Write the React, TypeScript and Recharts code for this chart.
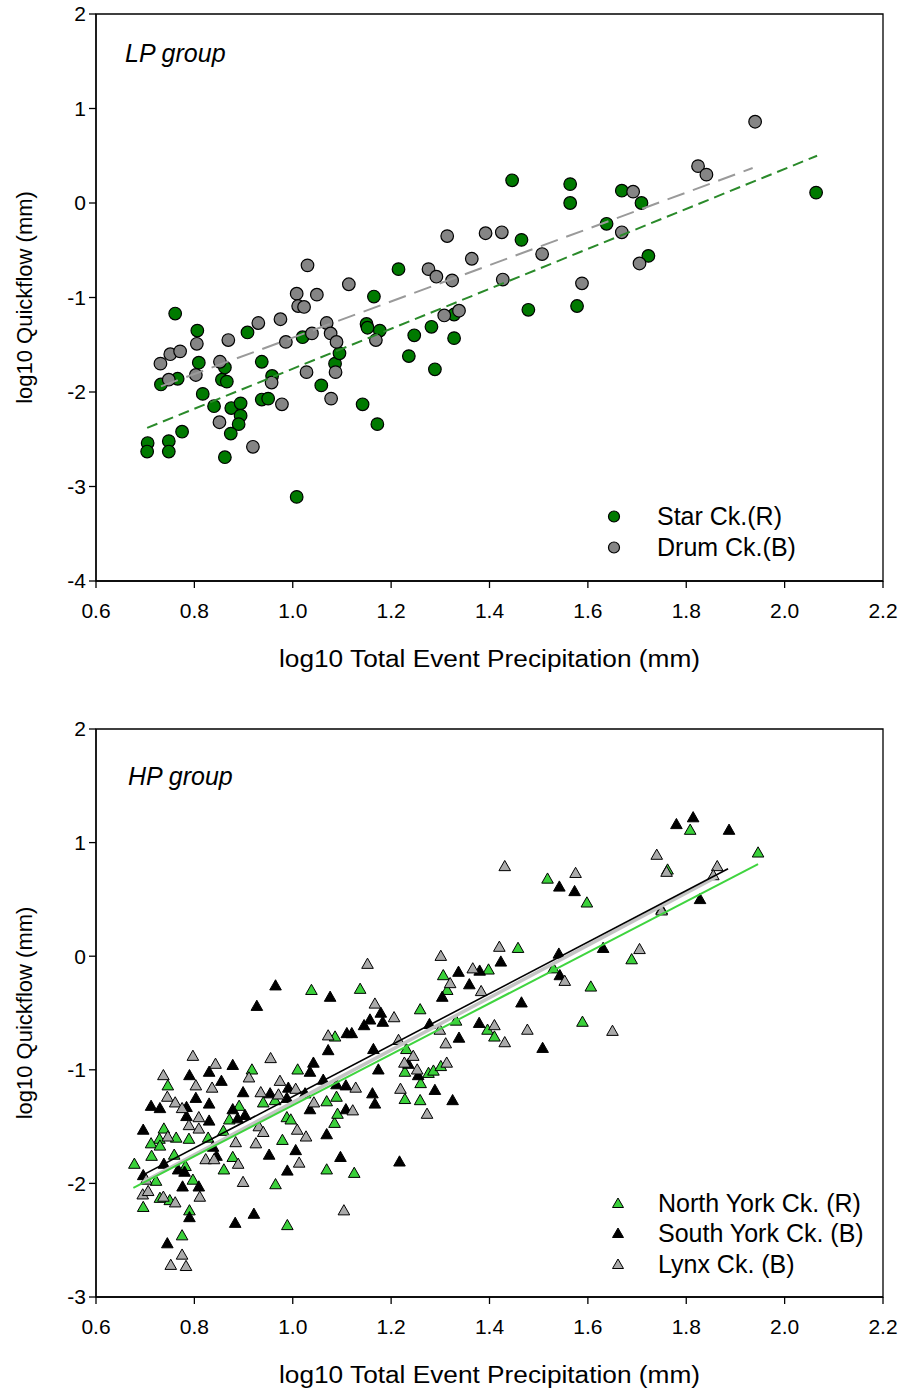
import { ScatterChart, Scatter, XAxis, YAxis, ReferenceArea, Legend } from 'recharts'

type Pt = [number, number]

// ---- LP group (top panel) ----
const starCk: Pt[] = [
  [0.761, -1.17], [0.806, -1.35], [0.809, -1.69], [0.817, -2.02], [0.84, -2.15], [0.856, -1.87],
  [0.866, -1.89], [0.862, -1.74], [0.875, -2.17], [0.894, -2.12], [0.894, -2.25], [0.89, -2.34],
  [0.874, -2.44], [0.862, -2.69], [0.775, -2.42], [0.748, -2.52], [0.748, -2.63], [0.705, -2.54],
  [0.704, -2.63], [0.732, -1.92], [0.766, -1.86], [0.908, -1.37], [0.937, -1.68], [0.958, -1.83],
  [0.937, -2.08], [0.95, -2.07], [1.008, -3.11], [1.02, -1.42], [1.058, -1.93], [1.086, -1.7],
  [1.095, -1.59], [1.142, -2.13], [1.15, -1.28], [1.152, -1.32], [1.165, -0.99], [1.172, -2.34],
  [1.177, -1.35], [1.236, -1.62], [1.247, -1.4], [1.282, -1.31], [1.289, -1.76], [1.328, -1.18],
  [1.328, -1.43], [1.215, -0.7], [1.446, 0.24], [1.564, 0.2], [1.564, 0.0], [1.669, 0.13],
  [1.709, 0.0], [2.064, 0.11], [1.465, -0.39], [1.638, -0.22], [1.723, -0.56], [1.479, -1.13],
  [1.578, -1.09],
]
const drumCk: Pt[] = [
  [0.731, -1.7], [0.751, -1.6], [0.771, -1.57], [0.748, -1.87], [0.805, -1.49], [0.803, -1.82],
  [0.869, -1.45], [0.852, -1.68], [0.851, -2.32], [0.919, -2.58], [0.93, -1.27], [0.975, -1.23],
  [0.986, -1.47], [0.957, -1.9], [0.978, -2.13], [1.008, -0.96], [1.011, -1.09], [1.023, -1.1],
  [1.049, -0.97], [1.039, -1.38], [1.028, -1.79], [1.069, -1.27], [1.077, -1.38], [1.089, -1.47],
  [1.087, -1.79], [1.078, -2.07], [1.114, -0.86], [1.169, -1.45], [1.308, -1.19], [1.338, -1.14],
  [1.03, -0.66], [1.314, -0.35], [1.364, -0.59], [1.392, -0.32], [1.276, -0.7], [1.292, -0.78],
  [1.324, -0.82], [1.425, -0.31], [1.507, -0.54], [1.427, -0.81], [1.588, -0.85], [1.692, 0.12],
  [1.669, -0.31], [1.705, -0.64], [1.824, 0.39], [1.841, 0.3], [1.94, 0.86],
]
const starFit: Pt[] = [[0.704, -2.38], [2.066, 0.5]]
const drumFit: Pt[] = [[0.732, -1.94], [1.935, 0.37]]

// ---- HP group (bottom panel) ----
const northYork: Pt[] = [
  [1.038, -0.3], [1.137, -0.29], [1.086, -0.71], [0.917, -1.0], [1.01, -1.0], [0.746, -1.14],
  [0.94, -1.29], [0.964, -1.27], [1.069, -1.28], [1.089, -1.24], [0.891, -1.32], [0.871, -1.44],
  [0.859, -1.54], [0.988, -1.42], [0.996, -1.44], [0.979, -1.62], [1.085, -1.47], [1.091, -1.39],
  [0.738, -1.52], [0.763, -1.6], [0.729, -1.61], [0.712, -1.65], [0.73, -1.67], [0.789, -1.61],
  [0.828, -1.6], [0.759, -1.75], [0.878, -1.77], [0.713, -1.76], [0.678, -1.83], [0.722, -1.98],
  [0.782, -1.85], [0.797, -1.97], [0.86, -1.88], [1.069, -1.88], [1.125, -1.91], [0.965, -2.01],
  [0.696, -2.21], [0.73, -2.13], [0.75, -2.15], [0.79, -2.24], [0.989, -2.37], [0.775, -2.46],
  [1.518, 0.68], [1.598, 0.47], [1.458, 0.07], [1.398, -0.12], [1.306, -0.17], [1.314, -0.3],
  [1.53, -0.11], [1.606, -0.27], [1.259, -0.47], [1.589, -0.58], [1.808, 1.11], [1.946, 0.91],
  [1.762, 0.76], [1.689, -0.03], [1.75, 0.41], [1.332, -0.57], [1.396, -0.65], [1.41, -0.71],
  [1.231, -0.82], [1.228, -1.02], [1.276, -1.03], [1.286, -1.01], [1.301, -0.97], [1.26, -1.12],
  [1.228, -1.26], [1.259, -1.27],
]
const southYork: Pt[] = [
  [0.965, -0.26], [1.076, -0.36], [0.927, -0.44], [1.179, -0.5], [1.145, -0.61], [1.157, -0.56],
  [1.183, -0.58], [1.11, -0.68], [1.12, -0.68], [1.072, -0.83], [0.878, -0.96], [0.83, -1.02],
  [1.042, -0.94], [1.035, -1.02], [1.164, -0.82], [1.174, -1.0], [0.79, -1.05], [0.855, -1.1],
  [0.899, -1.2], [0.954, -1.21], [0.991, -1.16], [1.025, -1.21], [1.062, -1.09], [1.089, -1.13],
  [1.108, -1.14], [1.162, -1.21], [1.167, -1.3], [0.803, -1.25], [0.712, -1.32], [0.73, -1.34],
  [0.784, -1.33], [0.83, -1.3], [0.988, -1.25], [1.035, -1.35], [1.108, -1.35], [0.784, -1.41],
  [0.83, -1.45], [0.878, -1.35], [0.903, -1.4], [0.888, -1.43], [1.069, -1.57], [0.696, -1.53],
  [0.838, -1.68], [0.845, -1.76], [0.952, -1.75], [1.006, -1.71], [0.696, -1.93], [0.738, -1.83],
  [0.767, -1.88], [0.78, -1.9], [0.989, -1.89], [1.097, -1.77], [0.776, -2.03], [0.809, -2.03],
  [0.79, -2.3], [0.883, -2.35], [0.921, -2.27], [0.745, -2.53], [1.542, 0.61], [1.573, 0.57],
  [1.337, -0.14], [1.38, -0.13], [1.423, -0.05], [1.359, -0.25], [1.304, -0.36], [1.541, 0.02],
  [1.543, -0.17], [1.465, -0.41], [1.78, 1.16], [1.814, 1.22], [1.887, 1.11], [1.828, 0.5],
  [1.631, 0.07], [1.278, -0.6], [1.379, -0.59], [1.508, -0.81], [1.338, -0.72], [1.235, -0.95],
  [1.255, -1.05], [1.289, -1.18], [1.325, -1.27], [1.217, -1.81],
]
const lynx: Pt[] = [
  [1.152, -0.07], [1.167, -0.42], [1.072, -0.7], [0.797, -0.88], [0.955, -0.9], [0.843, -0.95],
  [0.737, -1.05], [0.911, -1.07], [0.803, -1.14], [0.836, -1.16], [0.974, -1.1], [0.935, -1.2],
  [0.971, -1.22], [1.006, -1.17], [1.128, -1.16], [0.745, -1.24], [0.761, -1.29], [0.775, -1.34],
  [1.043, -1.29], [1.122, -1.36], [0.809, -1.42], [0.789, -1.49], [0.809, -1.52], [0.931, -1.5],
  [0.94, -1.55], [1.009, -1.53], [1.027, -1.59], [0.746, -1.59], [0.884, -1.64], [0.925, -1.65],
  [0.823, -1.79], [0.84, -1.79], [0.889, -1.83], [1.013, -1.82], [0.702, -1.97], [0.899, -1.99],
  [0.695, -2.1], [0.706, -2.07], [0.737, -2.12], [0.761, -2.17], [0.811, -2.12], [1.104, -2.24],
  [0.775, -2.63], [0.752, -2.72], [0.783, -2.73], [1.431, 0.79], [1.575, 0.73], [1.301, 0.0],
  [1.42, 0.08], [1.366, -0.11], [1.32, -0.24], [1.383, -0.31], [1.553, -0.22], [1.206, -0.54],
  [1.74, 0.89], [1.76, 0.74], [1.863, 0.79], [1.855, 0.71], [1.705, 0.06], [1.75, 0.4],
  [1.299, -0.65], [1.41, -0.61], [1.431, -0.76], [1.477, -0.65], [1.65, -0.66], [1.215, -0.74],
  [1.311, -0.77], [1.245, -0.88], [1.227, -0.94], [1.253, -1.0], [1.313, -0.94], [1.219, -1.17],
  [1.273, -1.39],
]
const northFit: Pt[] = [[0.676, -2.04], [1.946, 0.81]]
const southFit: Pt[] = [[0.689, -1.94], [1.885, 0.77]]
const lynxFit: Pt[] = [[0.695, -1.99], [1.862, 0.7]]

const X_TICKS = [0.6, 0.8, 1.0, 1.2, 1.4, 1.6, 1.8, 2.0, 2.2]
const Y_TICKS_TOP = [-4, -3, -2, -1, 0, 1, 2]
const Y_TICKS_BOTTOM = [-3, -2, -1, 0, 1, 2]

const FONT = '"Liberation Sans", Arial, Helvetica, sans-serif'
const X_TITLE = 'log10 Total Event Precipitation (mm)'
const Y_TITLE = 'log10 Quickflow (mm)'

const toPoints = (pts: Pt[]) => pts.map(([x, y]) => ({ x, y }))

// marker shapes
const circle = (fill: string, r = 6.3) => (p: any) =>
  <circle cx={p.cx} cy={p.cy} r={r} fill={fill} stroke="#000" strokeWidth={1.2} />

const triangle = (fill: string) => (p: any) => (
  <polygon
    points={`${p.cx},${p.cy - 6} ${p.cx + 5.8},${p.cy + 4.2} ${p.cx - 5.8},${p.cy + 4.2}`}
    fill={fill}
    stroke="#000"
    strokeWidth={1}
    strokeLinejoin="miter"
  />
)
const noDot = () => <g />

const yTitle = (props: any) => {
  const vb = props.viewBox
  const cy = vb.y + vb.height / 2
  return (
    <text x={32} y={cy} transform={`rotate(-90, 32, ${cy})`} textAnchor="middle"
      fontSize={22} fontFamily={FONT} fill="#000">
      {Y_TITLE}
    </text>
  )
}

const xTitle = (props: any) => {
  const vb = props.viewBox
  return (
    <text x={vb.x + vb.width / 2} y={vb.y + 86} textAnchor="middle" fontSize={23}
      fontFamily={FONT} fill="#000" textLength={421} lengthAdjust="spacingAndGlyphs">
      {X_TITLE}
    </text>
  )
}

type LegendRow = { label: string; icon: React.ReactNode }

function makeLegend(rows: LegendRow[], rowH: number, gap: number) {
  return () => (
    <div style={{ fontFamily: FONT, fontSize: 25, color: '#000' }}>
      {rows.map((r) => (
        <div key={r.label} style={{ display: 'flex', alignItems: 'center', height: rowH, whiteSpace: 'nowrap' }}>
          <svg width={14} height={rowH} style={{ flex: 'none' }}>{r.icon}</svg>
          <span style={{ marginLeft: gap, lineHeight: `${rowH}px` }}>{r.label}</span>
        </div>
      ))}
    </div>
  )
}

const topLegend = makeLegend([
  { label: 'Star Ck.(R)', icon: <circle cx={7} cy={15.5} r={5.5} fill="#007a00" stroke="#000" strokeWidth={1.2} /> },
  { label: 'Drum Ck.(B)', icon: <circle cx={7} cy={15.5} r={5.5} fill="#858585" stroke="#000" strokeWidth={1.2} /> },
], 31, 36)

const tri = (fill: string, cy: number) => (
  <polygon points={`7,${cy - 5.5} 12.5,${cy + 4} 1.5,${cy + 4}`} fill={fill} stroke="#000" strokeWidth={1} />
)
const bottomLegend = makeLegend([
  { label: 'North York Ck. (R)', icon: tri('#3ad13a', 15.5) },
  { label: 'South York Ck. (B)', icon: tri('#000', 15.5) },
  { label: 'Lynx Ck. (B)', icon: tri('#aaaaaa', 15.5) },
], 30.5, 33)

const axisProps = {
  axisLine: { stroke: '#000', strokeWidth: 1.3 },
  tickLine: { stroke: '#000', strokeWidth: 1.3 },
  tickSize: 7,
  tick: { fontSize: 21, fill: '#000', fontFamily: FONT },
}

export default function App() {
  return (
    <div style={{ position: 'absolute', left: 0, top: 0, width: 902, height: 1393, background: '#fff' }}>
      {/* LP group */}
      <div style={{ position: 'absolute', left: 0, top: 0, width: 902, height: 690 }}>
        <ScatterChart width={902} height={690} margin={{ top: 14, right: 19, bottom: 0, left: 0 }}>
          <XAxis type="number" dataKey="x" domain={[0.6, 2.2]} ticks={X_TICKS} allowDataOverflow
            tickFormatter={(v: number) => v.toFixed(1)} height={109} tickMargin={15} label={xTitle} {...axisProps} />
          <YAxis type="number" dataKey="y" domain={[-4, 2]} ticks={Y_TICKS_TOP} allowDataOverflow
            width={96} tickMargin={3} label={yTitle} {...axisProps} />
          <ReferenceArea x1={0.6} x2={2.2} y1={-4} y2={2} fill="none" stroke="#000" strokeWidth={1.3} ifOverflow="visible" />
          <Scatter name="Star Ck.(R)" data={toPoints(starCk)} shape={circle('#007a00')} isAnimationActive={false} />
          <Scatter name="Drum Ck.(B)" data={toPoints(drumCk)} shape={circle('#858585')} isAnimationActive={false} />
          <Scatter data={toPoints(starFit)} line={{ stroke: '#2a8a2a', strokeWidth: 2, strokeDasharray: '11 6' }}
            lineType="joint" shape={noDot} legendType="none" isAnimationActive={false} />
          <Scatter data={toPoints(drumFit)} line={{ stroke: '#9a9a9a', strokeWidth: 2, strokeDasharray: '18 9' }}
            lineType="joint" shape={noDot} legendType="none" isAnimationActive={false} />
          <Legend layout="vertical" align="center" verticalAlign="middle" content={topLegend}
            wrapperStyle={{ left: 607, top: 500.5, width: 260, height: 62 }} />
          <text x={125} y={62} fontSize={25} fontStyle="italic" fontFamily={FONT} fill="#000">LP group</text>
        </ScatterChart>
      </div>

      {/* HP group */}
      <div style={{ position: 'absolute', left: 0, top: 700, width: 902, height: 693 }}>
        <ScatterChart width={902} height={693} margin={{ top: 29, right: 19, bottom: 0, left: 0 }}>
          <XAxis type="number" dataKey="x" domain={[0.6, 2.2]} ticks={X_TICKS} allowDataOverflow
            tickFormatter={(v: number) => v.toFixed(1)} height={96} tickMargin={15} label={xTitle} {...axisProps} />
          <YAxis type="number" dataKey="y" domain={[-3, 2]} ticks={Y_TICKS_BOTTOM} allowDataOverflow
            width={96} tickMargin={3} label={yTitle} {...axisProps} />
          <ReferenceArea x1={0.6} x2={2.2} y1={-3} y2={2} fill="none" stroke="#000" strokeWidth={1.3} ifOverflow="visible" />
          <Scatter name="North York Ck. (R)" data={toPoints(northYork)} shape={triangle('#3ad13a')} isAnimationActive={false} />
          <Scatter name="South York Ck. (B)" data={toPoints(southYork)} shape={triangle('#000')} isAnimationActive={false} />
          <Scatter name="Lynx Ck. (B)" data={toPoints(lynx)} shape={triangle('#aaaaaa')} isAnimationActive={false} />
          <Scatter data={toPoints(lynxFit)} line={{ stroke: '#c4c4c4', strokeWidth: 3.5 }}
            lineType="joint" shape={noDot} legendType="none" isAnimationActive={false} />
          <Scatter data={toPoints(northFit)} line={{ stroke: '#3fd43f', strokeWidth: 2 }}
            lineType="joint" shape={noDot} legendType="none" isAnimationActive={false} />
          <Scatter data={toPoints(southFit)} line={{ stroke: '#000', strokeWidth: 1.6 }}
            lineType="joint" shape={noDot} legendType="none" isAnimationActive={false} />
          <Legend layout="vertical" align="center" verticalAlign="middle" content={bottomLegend}
            wrapperStyle={{ left: 611, top: 487.75, width: 260, height: 92 }} />
          <text x={128} y={85} fontSize={25} fontStyle="italic" fontFamily={FONT} fill="#000">HP group</text>
        </ScatterChart>
      </div>
    </div>
  )
}
